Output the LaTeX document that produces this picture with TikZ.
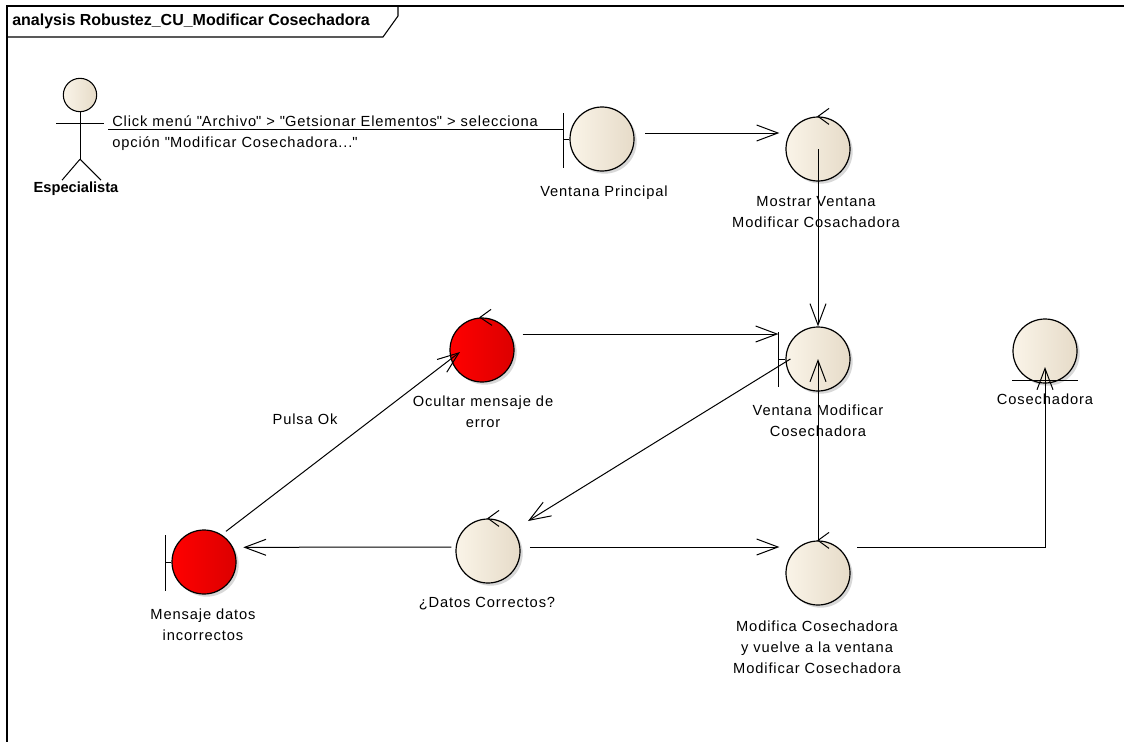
\documentclass[tikz,border=0pt]{standalone}
\usepackage{fontspec}
\setmainfont{Liberation Sans}
\usetikzlibrary{arrows.meta,shadows}
\definecolor{umlCream}{RGB}{250,244,232}
\definecolor{umlSand}{RGB}{230,219,200}
\definecolor{umlRed}{RGB}{255,0,0}
\definecolor{umlDeepRed}{RGB}{220,0,0}

\begin{document}
\begin{tikzpicture}[
  x=0.75pt,y=-0.75pt,
  every node/.style={font=\fontsize{11}{15.75}\selectfont\addfontfeatures{LetterSpace=6}},
  obj/.style={circle,draw=black,line width=0.9pt,minimum size=48pt,inner sep=0pt,left color=umlCream,right color=umlSand,drop shadow={shadow xshift=2pt,shadow yshift=-2pt,fill=black!30}},
  errobj/.style={obj,left color=umlRed,right color=umlDeepRed},
  headobj/.style={circle,draw=black,line width=0.8pt,minimum size=25pt,inner sep=0pt,left color=umlCream,right color=umlSand},
  lbl/.style={align=center,inner sep=0pt},
  arrow/.style={-{Straight Barb[length=16pt,width=12pt]},line width=0.75pt},
  link/.style={line width=0.75pt}
]
  \useasboundingbox (0,0) rectangle (1124,742);
  \fill[white] (0,0) rectangle (1124,742);

  % frame and title tab
  \draw[line width=0.8pt] (7,742) -- (7,6) -- (1124,6);
  \draw[line width=0.8pt] (7,37) -- (383,37) -- (398,16) -- (398,6);
  \node[font=\fontsize{12}{14}\selectfont\bfseries,anchor=west,inner sep=0pt] (title) at (12,21) {analysis Robustez\_CU\_Modificar Cosechadora};

  % actor
  \node[headobj] (spHead) at (80,95) {};
  \draw[link] (spHead.south) -- ++(0,47) coordinate (spHip);
  \draw[link] (spHead.south) ++(-24,11) -- ++(48,0);
  \draw[link] (spHip) -- ++(-18,21) (spHip) -- ++(21,21);
  \node[font=\fontsize{11}{14}\selectfont\bfseries,inner sep=0pt] (sp) at (76,189) {Especialista};
  \coordinate (spR) at (108,129);

  % robustness objects
  \node[obj] (vp) at (602,139) {};
  \node[obj] (mv) at (818,149) {};
  \node[obj] (vm) at (818,359) {};
  \node[obj] (cos) at (1045,351) {};
  \node[errobj] (oc) at (482,350) {};
  \node[errobj] (md) at (204,562) {};
  \node[obj] (dc) at (488,551) {};
  \node[obj] (mc) at (818,573) {};

  % boundary marks
  \draw[link] (vp.west) -- ++(-6,0) coordinate (vpB) ++(0,-26) -- ++(0,55);
  \draw[link] (vm.west) -- ++(-7,0) coordinate (vmB) ++(0,-27) -- ++(0,55);
  \draw[link] (md.west) -- ++(-6,0) coordinate (mdB) ++(0,-27) -- ++(0,56);
  % entity mark
  \draw[link] (cos.center) ++(-33,29) -- ++(66,0);
  % control marks
  \draw[link] (mv.north) ++(11,-8) -- (mv.north) -- ++(11,8);
  \draw[link] (oc.north) ++(9,-8) -- ([xshift=-1.5pt]oc.north) -- ++(12,8);
  \draw[link] (dc.north) ++(11,-8) -- (dc.north) -- ++(11,8);
  \draw[link] (mc.north) ++(11,-8) -- (mc.north) -- ++(11,8);

  % labels
  \node[lbl] (vpL) at (604,193) {Ventana Principal};
  \node[lbl] (mvL) at (816,212) {Mostrar Ventana\\Modificar Cosachadora};
  \node[lbl] (vmL) at (818,421) {Ventana Modificar\\Cosechadora};
  \node[lbl] (cosL) at (1045,399) {Cosechadora};
  \node[lbl] (ocL) at (483,412) {Ocultar mensaje de\\error};
  \node[lbl] (mdL) at (203,625) {Mensaje datos\\incorrectos};
  \node[lbl] (dcL) at (487,604) {¿Datos Correctos?};
  \node[lbl] (mcL) at (817,647) {Modifica Cosechadora\\y vuelve a la ventana\\Modificar Cosechadora};

  % connectors
  \draw[link] (spR) -- (vpB |- spR);
  \node[lbl,align=left,anchor=north west] (msg) at (112,115) {Click menú \textquotedbl Archivo\textquotedbl{} > \textquotedbl Getsionar Elementos\textquotedbl{} > selecciona\\opción \textquotedbl Modificar Cosechadora...\textquotedbl};
  \draw[arrow] ([xshift=8pt,yshift=4.5pt]vp.east) -- ([xshift=-4.5pt,yshift=12pt]mv.west);
  \draw[arrow] (mv.center) -- (vm.north);
  \draw[arrow] ([xshift=6pt,yshift=12pt]oc.east) -- ([yshift=18.75pt]vmB);
  \draw[arrow] ([xshift=3.75pt]vm.west) -- ([shift={(30pt,22.5pt)}]dc.center);
  \draw[arrow] ([xshift=-3pt,yshift=3pt]dc.west) -- ([xshift=5pt,yshift=11pt]md.east);
  \draw[arrow] ([xshift=7pt,yshift=3pt]dc.east) -- ([xshift=-4.5pt,yshift=19.5pt]mc.west);
  \draw[arrow] (mc.north) -- (vm.center);
  \draw[arrow] ([shift={(16.5pt,23pt)}]md.center) -- ([xshift=-16.5pt,yshift=-1.5pt]oc.center);
  \node[lbl] (pulsa) at (305,419) {Pulsa Ok};
  \draw[arrow] ([xshift=5pt,yshift=19pt]mc.east) -| ([yshift=-12pt]cos.center);
\end{tikzpicture}
\end{document}
